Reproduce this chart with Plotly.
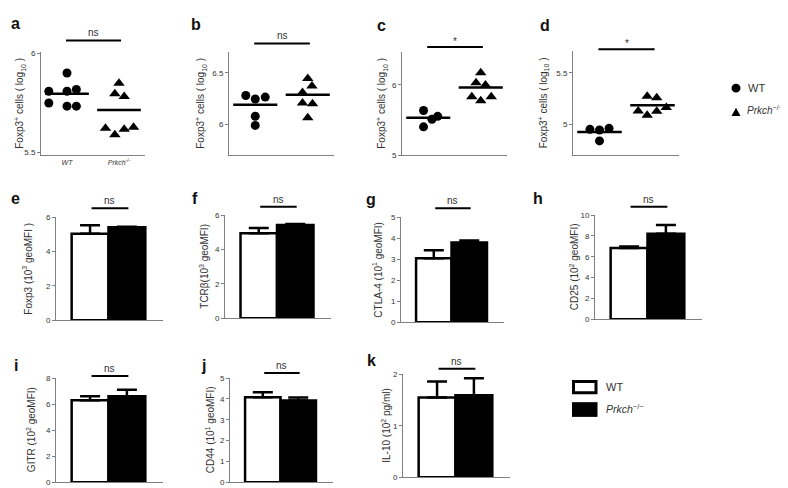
import plotly.graph_objects as go

W, H = 788, 488
FONT = "Liberation Sans"

# ---------------- data ----------------
group_names = ["WT", "Prkch−/−"]
group_pos = [1, 2]

# dot plots (Foxp3+ cells, log10)
a_wt = [5.90, 5.808, 5.808, 5.817, 5.749, 5.733, 5.733]
a_ko = [5.848, 5.795, 5.782, 5.622, 5.589, 5.617, 5.627]
a_mean = [5.795, 5.713]
b_wt = [6.280, 6.246, 6.265, 6.079, 5.990]
b_ko = [6.446, 6.373, 6.309, 6.207, 6.201, 6.064]
b_mean = [6.191, 6.287]
c_wt = [5.637, 5.512, 5.554, 5.405]
c_ko = [6.172, 6.032, 6.000, 5.833, 5.777, 5.833]
c_mean = [5.535, 5.963]
d_wt = [4.952, 4.946, 4.962, 4.840]
d_ko = [5.273, 5.258, 5.130, 5.089, 5.127, 5.163]
d_mean = [4.926, 5.185]

# horizontal scatter (jitter) of the dots, in category units
a_wt_jit = [0, -0.35, 0, 0.18, -0.35, 0, 0.18]
a_ko_jit = [0, -0.08, 0.10, -0.26, -0.08, 0.10, 0.28]
b_wt_jit = [-0.18, 0, 0.19, 0, 0]
b_ko_jit = [0, 0.08, -0.10, -0.10, 0.09, 0]
c_wt_jit = [-0.09, 0.07, 0.18, -0.09]
c_ko_jit = [0, -0.09, 0.09, -0.17, 0, 0.20]
d_wt_jit = [-0.18, 0, 0.18, 0]
d_ko_jit = [-0.10, 0.08, -0.27, -0.10, 0.08, 0.26]

# bar charts: means and upper errors (WT, Prkch-/-)
e_mean, e_err = [5.03, 5.41], [0.50, 0.03]
f_mean, f_err = [4.95, 5.43], [0.30, 0.05]
g_mean, g_err = [3.04, 3.79], [0.39, 0.10]
h_mean, h_err = [6.85, 8.22], [0.13, 0.84]
i_mean, i_err = [6.29, 6.61], [0.32, 0.50]
j_mean, j_err = [4.08, 3.93], [0.24, 0.14]
k_mean, k_err = [1.55, 1.59], [0.31, 0.33]

dot_panels = [
    dict(lab="a", wt=a_wt, ko=a_ko, wj=a_wt_jit, kj=a_ko_jit, mean=a_mean, sig="ns",
         rng=[5.485, 6.005], ticks=[5.5, 6], tt=["5.5", "6"], box=(33, 137, 41, 146),
         sig_y=1.114, title_x=12, lab_xy=(8, 12)),
    dict(lab="b", wt=b_wt, ko=b_ko, wj=b_wt_jit, kj=b_ko_jit, mean=b_mean, sig="ns",
         rng=[5.7, 6.7], ticks=[6, 6.5], tt=["6", "6.5"], box=(221, 326, 41, 146),
         sig_y=1.086, title_x=193, lab_xy=(188, 13)),
    dict(lab="c", wt=c_wt, ko=c_ko, wj=c_wt_jit, kj=c_ko_jit, mean=c_mean, sig="*",
         rng=[5.0, 6.465], ticks=[5, 6], tt=["5", "6"], box=(394, 499, 41, 146),
         sig_y=1.05, title_x=374, lab_xy=(373, 14)),
    dict(lab="d", wt=d_wt, ko=d_ko, wj=d_wt_jit, kj=d_ko_jit, mean=d_mean, sig="*",
         rng=[4.7, 5.71], ticks=[5, 5.5], tt=["5", "5.5"], box=(565, 671, 40, 146),
         sig_y=1.02, title_x=535, lab_xy=(537, 14)),
]

bar_panels = [
    dict(lab="e", mean=e_mean, err=e_err, rng=[0, 6], ticks=[0, 2, 4, 6], box=(48, 155, 209, 314),
         title="Foxp3 (10<sup>3</sup> geoMFI )", title_x=19, lab_xy=(8, 190), sig_y=1.086),
    dict(lab="f", mean=f_mean, err=f_err, rng=[0, 6], ticks=[0, 2, 4, 6], box=(217, 323, 207, 312),
         title="TCRβ(10<sup>3</sup> geoMFI)", title_x=196, lab_xy=(187, 190), sig_y=1.081),
    dict(lab="g", mean=g_mean, err=g_err, rng=[0, 5], ticks=[0, 1, 2, 3, 4, 5], box=(393, 496, 209, 316),
         title="CTLA-4 (10<sup>1</sup> geoMFI)", title_x=369, lab_xy=(363, 191), sig_y=1.084),
    dict(lab="h", mean=h_mean, err=h_err, rng=[0, 10], ticks=[0, 2, 4, 6, 8, 10], box=(587, 694, 207, 313),
         title="CD25 (10<sup>2</sup> geoMFI)", title_x=566, lab_xy=(530, 190), sig_y=1.082),
    dict(lab="i", mean=i_mean, err=i_err, rng=[0, 8], ticks=[0, 2, 4, 6, 8], box=(48, 155, 373, 479),
         title="GITR (10<sup>2</sup> geoMFI)", title_x=23, lab_xy=(8, 360), sig_y=1.02),
    dict(lab="j", mean=j_mean, err=j_err, rng=[0, 5], ticks=[0, 1, 2, 3, 4, 5], box=(222, 325, 373, 479),
         title="CD44 (10<sup>1</sup> geoMFI)", title_x=202, lab_xy=(195, 360), sig_y=1.05),
    dict(lab="k", mean=k_mean, err=k_err, rng=[0, 2], ticks=[0, 1, 2], box=(395, 502, 369, 474),
         title="IL-10 (10<sup>2</sup> pg/ml)", title_x=378, lab_xy=(363, 355), sig_y=1.054),
]

AXC = "#808080"
TXT = "#333333"


def fx(px):
    return px / W


def fy(py):
    return 1 - py / H


fig = go.Figure()
layout = dict(
    width=W, height=H, margin=dict(l=0, r=0, t=0, b=0),
    paper_bgcolor="white", plot_bgcolor="white", showlegend=False,
    font=dict(family=FONT, color=TXT),
)
shapes, annotations = [], []


def axis_common(box, is_x):
    x0, x1, y0, y1 = box
    dom = [fx(x0), fx(x1)] if is_x else [fy(y1), fy(y0)]
    return dict(domain=dom, showline=True, linecolor=AXC, linewidth=1,
                showgrid=False, zeroline=False, fixedrange=True)


def add_title(text, x_px, box):
    annotations.append(dict(text=text, xref="paper", yref="paper", x=fx(x_px),
                            y=fy((box[2] + box[3]) / 2), textangle=-90, showarrow=False,
                            xanchor="center", yanchor="middle", font=dict(size=10, color=TXT)))


def add_label(lab, xy):
    annotations.append(dict(text="<b>%s</b>" % lab, xref="paper", yref="paper", x=fx(xy[0]),
                            y=fy(xy[1]), showarrow=False, xanchor="center", yanchor="middle",
                            font=dict(size=16, color="#111")))


def add_sig(n, text, x0, x1, ydom, gap):
    xr, yr = "x" if n == 1 else "x%d" % n, ("y" if n == 1 else "y%d" % n) + " domain"
    shapes.append(dict(type="line", xref=xr, yref=yr, x0=x0, x1=x1, y0=ydom, y1=ydom,
                       line=dict(color="black", width=2)))
    annotations.append(dict(text=text, xref=xr, yref=yr, x=(x0 + x1) / 2, y=ydom, yshift=gap,
                            showarrow=False, xanchor="center", yanchor="bottom",
                            font=dict(size=10, color=TXT)))


n = 0
for p in dot_panels:
    n += 1
    xa, ya = ("x", "y") if n == 1 else ("x%d" % n, "y%d" % n)
    for vals, jit, pos, sym in [(p["wt"], p["wj"], group_pos[0], "circle"),
                                (p["ko"], p["kj"], group_pos[1], "triangle-up")]:
        fig.add_trace(go.Scatter(x=[pos + j for j in jit], y=vals, mode="markers",
                                 marker=dict(symbol=sym, size=9 if sym == "circle" else 10, color="black"),
                                 xaxis=xa, yaxis=ya, cliponaxis=False, hoverinfo="skip"))
    for pos, m in zip(group_pos, p["mean"]):
        fig.add_trace(go.Scatter(x=[pos - 0.42, pos + 0.42], y=[m, m], mode="lines",
                                 line=dict(color="black", width=2.5), xaxis=xa, yaxis=ya,
                                 hoverinfo="skip"))
    xd = axis_common(p["box"], True)
    xd.update(range=[0.5, 2.5], anchor=ya)
    if p["lab"] == "a":
        xd.update(tickvals=group_pos, ticktext=["<i>WT</i>", "<i>Prkch</i><sup>-/-</sup>"],
                  ticks="", tickfont=dict(size=7, color=TXT), showticklabels=True)
    else:
        xd.update(showticklabels=False, ticks="")
    yd = axis_common(p["box"], False)
    yd.update(range=p["rng"], tickvals=p["ticks"], ticktext=p["tt"], ticks="outside", ticklen=3,
              tickcolor=AXC, tickfont=dict(size=8, color=TXT), anchor=xa)
    layout["xaxis" if n == 1 else "xaxis%d" % n] = xd
    layout["yaxis" if n == 1 else "yaxis%d" % n] = yd
    add_title("Foxp3<sup>+</sup> cells ( log<sub>10</sub> )", p["title_x"], p["box"])
    add_label(p["lab"], p["lab_xy"])
    add_sig(n, p["sig"], 0.98, 2.04, p["sig_y"], 0 if p["sig"] == "ns" else -2)

for p in bar_panels:
    n += 1
    xa, ya = "x%d" % n, "y%d" % n
    fig.add_trace(go.Bar(x=group_pos, y=p["mean"], width=[1, 1],
                         marker=dict(color=["white", "black"], line=dict(color="black", width=2.5)),
                         error_y=dict(type="data", array=p["err"], arrayminus=[0, 0], symmetric=False,
                                      color="black", thickness=2.5, width=10),
                         xaxis=xa, yaxis=ya, hoverinfo="skip"))
    xd = axis_common(p["box"], True)
    xd.update(range=[0.075, 2.98], showticklabels=False, ticks="", anchor=ya)
    yd = axis_common(p["box"], False)
    yd.update(range=p["rng"], tickvals=p["ticks"], ticks="outside", ticklen=3, tickcolor=AXC,
              tickfont=dict(size=8, color=TXT), anchor=xa)
    layout["xaxis%d" % n] = xd
    layout["yaxis%d" % n] = yd
    add_title(p["title"], p["title_x"], p["box"])
    add_label(p["lab"], p["lab_xy"])
    add_sig(n, "ns", 1.04, 2.04, p["sig_y"], 0)

# ---- legend (top right: dot symbols) ----
shapes.append(dict(type="circle", xref="paper", yref="paper", x0=fx(723.5), x1=fx(732.5),
                   y0=fy(82), y1=fy(73), fillcolor="black", line=dict(color="black", width=0)))
tri = "M %f,%f L %f,%f L %f,%f Z" % (fx(723.5), fy(106), fx(732.5), fy(106), fx(728), fy(97.5))
shapes.append(dict(type="path", xref="paper", yref="paper", path=tri, fillcolor="black",
                   line=dict(color="black", width=0)))
annotations.append(dict(text="WT", xref="paper", yref="paper", x=fx(738), y=fy(77),
                        xanchor="left", yanchor="middle", showarrow=False, font=dict(size=11, color=TXT)))
annotations.append(dict(text="<i>Prkch</i><sup>−/−</sup>", xref="paper", yref="paper", x=fx(737),
                        y=fy(100), xanchor="left", yanchor="middle", showarrow=False,
                        font=dict(size=10, color=TXT)))

# ---- legend (bottom: bar swatches) ----
shapes.append(dict(type="rect", xref="paper", yref="paper", x0=fx(565.5), x1=fx(588), y0=fy(388),
                   y1=fy(376.5), fillcolor="white", line=dict(color="black", width=3)))
shapes.append(dict(type="rect", xref="paper", yref="paper", x0=fx(564), x1=fx(589.5), y0=fy(412.5),
                   y1=fy(397.5), fillcolor="black", line=dict(color="black", width=0)))
annotations.append(dict(text="WT", xref="paper", yref="paper", x=fx(596), y=fy(382),
                        xanchor="left", yanchor="middle", showarrow=False, font=dict(size=11, color=TXT)))
annotations.append(dict(text="<i>Prkch</i><sup>−/−</sup>", xref="paper", yref="paper", x=fx(596),
                        y=fy(404), xanchor="left", yanchor="middle", showarrow=False,
                        font=dict(size=10.5, color=TXT)))

layout["shapes"] = shapes
layout["annotations"] = annotations
fig.update_layout(**layout)
fig.write_html("out.html")
